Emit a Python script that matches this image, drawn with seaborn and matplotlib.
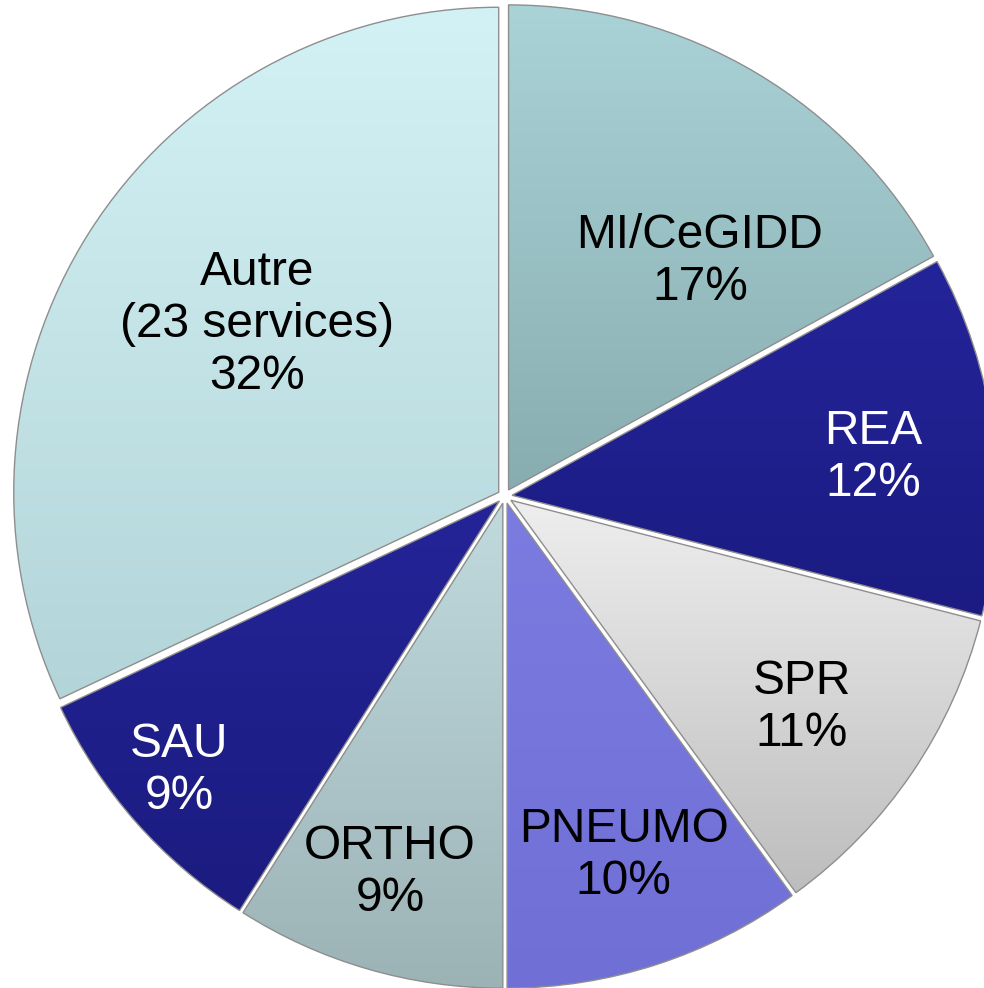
import numpy as np
import matplotlib
matplotlib.use("Agg")
import matplotlib.pyplot as plt
import seaborn as sns
from matplotlib.colors import to_rgb

# ---- data ----
categories = ["MI/CeGIDD", "REA", "SPR", "PNEUMO", "ORTHO", "SAU", "Autre\n(23 services)"]
shares = [17, 12, 11, 10, 9, 9, 32]

# ---- styles ----
colors_top = ["#aad3d7", "#24249a", "#eeeeee", "#7b7be0", "#c0dadd", "#242498", "#d3f2f6"]
colors_bottom = ["#88adb0", "#1b1b82", "#bdbdbd", "#6f6fd6", "#9cb3b6", "#1b1b80", "#b3d4d8"]
text_colors = ["black", "white", "black", "black", "black", "white", "black"]
label_r = [0.615, 0.748, 0.736, 0.765, 0.796, 0.864, 0.607]
label_dtheta = [-9.3, -1.3, -1.2, 0.3, -0.8, -1.3, -2.4]

sns.set_theme(style="white")
plt.rcParams['font.family'] = ['Liberation Sans', 'DejaVu Sans']

fig = plt.figure(figsize=(9.84, 9.88), dpi=100)
ax = fig.add_axes([0, 0, 1, 1])
wedges, _ = ax.pie(shares, startangle=90, counterclock=False,
                   colors=colors_top, explode=[0.015] * len(shares), radius=1,
                   wedgeprops=dict(edgecolor="#8e8e8e", linewidth=1.0))

for w, ct, cb, cat, s, tc, lr, dt in zip(wedges, colors_top, colors_bottom, categories,
                                         shares, text_colors, label_r, label_dtheta):
    cx, cy = w.center
    th = np.deg2rad(np.linspace(w.theta1, w.theta2, 200))
    xs = np.concatenate([[cx], cx + w.r * np.cos(th)])
    ys = np.concatenate([[cy], cy + w.r * np.sin(th)])
    x0, x1, y0, y1 = xs.min(), xs.max(), ys.min(), ys.max()
    t = np.linspace(0, 1, 256)[:, None, None]
    grad = (1 - t) * np.array(to_rgb(ct))[None, None, :] + t * np.array(to_rgb(cb))[None, None, :]
    im = ax.imshow(grad, extent=[x0, x1, y0, y1], origin="upper", aspect="auto",
                   interpolation="bilinear", zorder=1)
    im.set_clip_path(w)
    w.set_facecolor("none")
    w.set_zorder(2)
    mid = np.deg2rad((w.theta1 + w.theta2) / 2 + dt)
    ax.text(cx + lr * np.cos(mid), cy + lr * np.sin(mid), f"{cat}\n{s}%",
            ha="center", va="center", color=tc, fontsize=34.5, linespacing=1.2, zorder=3)

ax.set_aspect("auto")
ax.set_xlim(-1.041, 0.988)
ax.set_ylim(-1.014, 1.023)
ax.axis("off")
fig.savefig("out.png", dpi=100)
